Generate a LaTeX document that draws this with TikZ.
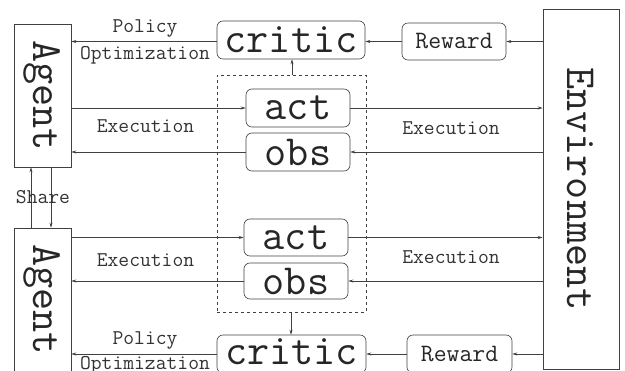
\documentclass[tikz,border=0pt]{standalone}
\usetikzlibrary{arrows.meta}
\begin{document}
\begin{tikzpicture}[x=1pt,y=-1pt,
  line/.style={draw=black!75, line width=0.6pt},
  arr/.style={line, -{Stealth[length=5pt,width=3pt]}},
  bigbox/.style={line, rectangle, inner sep=0pt},
  rbox/.style={line, rectangle, rounded corners=6pt, inner sep=0pt},
  bigtxt/.style={font=\ttfamily\fontsize{43}{43}\selectfont, text=black!85},
  midtxt/.style={font=\ttfamily\fontsize{25}{25}\selectfont, text=black!85},
  lbl/.style={font=\ttfamily\fontsize{21}{21}\selectfont, text=black!80, inner sep=0pt}
]
\useasboundingbox (0,0) rectangle (625,371);
\clip (0,0) rectangle (625,371);

% Agents
\node[bigbox, minimum width=57pt, minimum height=143pt] (agenttop) at (42.5,95.5) {};
\node[bigtxt, rotate=-90] at (agenttop.center) {Agent};
\node[bigbox, minimum width=57pt, minimum height=143pt] (agentbot) at (42.5,299.5) {};
\node[bigtxt, rotate=-90] at (agentbot.center) {Agent};

% Environment
\node[bigbox, minimum width=76pt, minimum height=360pt] (env) at (581,189) {};
\node[bigtxt, rotate=-90] at (env.center) {Environment};

% dashed group
\node[line, dashed, rectangle, minimum width=149pt, minimum height=237pt] (group) at (291.5,193.5) {};

% top row
\node[rbox, bigtxt, minimum width=148pt, minimum height=38pt] (critictop) at (291,40) {critic};
\node[rbox, midtxt, minimum width=104pt, minimum height=37pt] (rewardtop) at (454,41.5) {Reward};
\node[rbox, bigtxt, minimum width=104pt, minimum height=38pt] (acttop) at (298,108) {act};
\node[rbox, bigtxt, minimum width=104pt, minimum height=38pt] (obstop) at (298,152) {obs};

% bottom row
\node[rbox, bigtxt, minimum width=104pt, minimum height=37pt] (actbot) at (296,237.5) {act};
\node[rbox, bigtxt, minimum width=104pt, minimum height=36pt] (obsbot) at (296,281) {obs};
\node[rbox, minimum width=149pt, minimum height=38pt] (criticbot) at (291.5,354) {};
\node[bigtxt, inner sep=0pt] at (291.5,352) {critic};
\node[rbox, midtxt, minimum width=105pt, minimum height=38pt] (rewardbot) at (459.5,354) {Reward};

% top arrows
\draw[arr] (env.west |- rewardtop.east) -- (rewardtop.east);
\draw[arr] (rewardtop.west) -- (critictop.east |- rewardtop.west);
\draw[arr] (critictop.west |- rewardtop.west) -- (agenttop.east |- rewardtop.west);
\draw[arr] (group.north -| 292,0) -- (critictop.south -| 292,0);
\draw[arr] (agenttop.east |- acttop.west) -- (acttop.west);
\draw[arr] (obstop.west) -- (agenttop.east |- obstop.west);
\draw[arr] (acttop.east) -- (env.west |- acttop.east);
\draw[arr] (env.west |- obstop.east) -- (obstop.east);

% share
\draw[arr] ([xshift=-11.5pt]agentbot.north) -- ([xshift=-11.5pt]agenttop.south);
\draw[arr] ([xshift=8.5pt]agenttop.south) -- ([xshift=8.5pt]agentbot.north);

% bottom arrows
\draw[arr] (agentbot.east |- actbot.west) -- (actbot.west);
\draw[arr] (obsbot.west) -- (agentbot.east |- obsbot.west);
\draw[arr] (actbot.east) -- (env.west |- actbot.east);
\draw[arr] (env.west |- obsbot.east) -- (obsbot.east);
\draw[arr] (group.south -| 291,0) -- (criticbot.north -| 291,0);
\draw[arr] (env.west |- rewardbot.east) -- (rewardbot.east);
\draw[arr] (rewardbot.west) -- (criticbot.east);
\draw[arr] (criticbot.west) -- (agentbot.east |- criticbot.west);

% labels
\node[lbl] (pol1) at (145,28) {Policy};
\node[lbl] (opt1) at (145,55) {Optimization};
\node[lbl] (ex1) at (145.5,126) {Execution};
\node[lbl] (ex2) at (451,128) {Execution};
\node[lbl] (share) at (43,197) {Share};
\node[lbl] (ex3) at (145.5,260) {Execution};
\node[lbl] (ex4) at (451,257) {Execution};
\node[lbl] (pol2) at (145,340) {Policy};
\node[lbl] (opt2) at (145,365) {Optimization};
\end{tikzpicture}
\end{document}
